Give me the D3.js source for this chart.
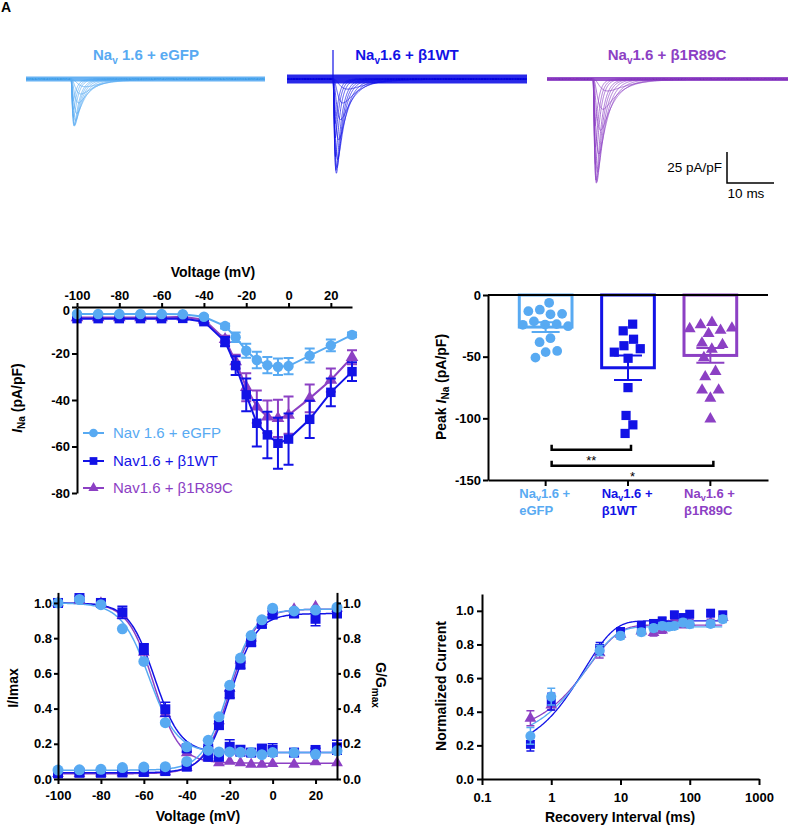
<!DOCTYPE html>
<html><head><meta charset="utf-8">
<script src="https://cdn.jsdelivr.net/npm/d3@7"></script>
<style>body{margin:0;background:#fff}svg{display:block}</style>
</head><body><svg id="c" width="788" height="828"></svg>
<script>
// ---------------- DATA ----------------
const groups = ["eGFP", "β1WT", "β1R89C"];
const colors = ["#58aaf2", "#1212e6", "#8c40c4"];
const legendLabels = ["Nav 1.6 + eGFP", "Nav1.6 + β1WT", "Nav1.6 + β1R89C"];

// Panel B: I-V
const ivVoltage = [-100,-90,-80,-70,-60,-50,-40,-30,-25,-20,-15,-10,-5,0,10,20,30];
const ivEGFP  = [-3,-3,-3,-3,-3,-3.1,-4.2,-8.2,-13,-18.8,-22.8,-25,-25.7,-25.4,-20.9,-16.5,-12];
const ivEGFPErr = [0.3,0.3,0.3,0.3,0.3,0.3,0.5,1,2,3,3.5,3.5,3.5,3.5,3,2.5,1];
const ivWT    = [-5,-5,-5,-5,-5,-4.9,-6.3,-14.9,-25.2,-37.8,-50,-55,-58.6,-56.8,-48.3,-36.7,-27.8];
const ivWTErr = [0.4,0.4,0.4,0.4,0.4,0.5,0.8,2,4,7,10,10,11,11,8,6,4];
const ivR89C  = [-4.5,-4.5,-4.5,-4.5,-4.5,-4.2,-5.5,-13.9,-23.5,-34.5,-42.9,-47.2,-47.9,-46.5,-39.3,-31.4,-21.6];
const ivR89CErr = [0.4,0.4,0.4,0.4,0.4,0.4,0.6,1.5,3,6,7,7,8,8,6,5,3];
const ivTicksX = [-100,-80,-60,-40,-20,0,20];
const ivTicksY = [0,-20,-40,-60,-80];

// Panel A: representative trace families (steps -40..+30 mV)
const traceVoltage = [-40,-30,-25,-20,-15,-10,-5,0,10,20,30];
const traceTauM = [1.2,0.8,0.6,0.45,0.35,0.3,0.26,0.23,0.2,0.18,0.16];
const traceTauH = [5,3.5,2.8,2.2,1.8,1.5,1.3,1.15,0.95,0.85,0.75];
const tracePeak = [38, 76, 84]; // pA/pF of the representative cells
const scaleBarMs = 10, scaleBarPA = 25;

// Panel C: peak current per cell
const peakEGFP = [-7.6,-15.7,-13.2,-12.2,-16.8,-22.1,-25.1,-22.1,-22.1,-23.8,-35.1,-38.3,-50.5,-45.4,-46.4];
const peakWT   = [-23.8,-41,-28.9,-37.3,-42.7,-45.9,-51.3,-75.1,-97.8,-105.3,-112.1];
const peakR89C = [-27,-24.3,-24.3,-27,-27,-31,-40.5,-43.8,-39.2,-50.5,-66.2,-62.1,-77.5,-77.5,-82.9,-100.5];
const peakMean = [-26, -59, -49];
const peakSEM  = [4, 10, 6];
const peakTicks = [0,-50,-100,-150];
const sigPairs = [[0,1,-125.5,"**"],[0,2,-138.5,"*"]];

// Panel D: steady-state inactivation and activation
const ssVoltage = [-100,-90,-80,-70,-60,-50,-40,-30,-25,-20,-15,-10,-5,0,10,20,30];
const inactEGFP = [1.0,1.02,0.99,0.853,0.668,0.32,0.183,0.164,0.154,0.154,0.152,0.15,0.138,0.15,0.15,0.14,0.16];
const inactWT   = [1.0,1.028,1.0,0.947,0.739,0.396,0.174,0.126,0.126,0.183,0.16,0.15,0.173,0.165,0.15,0.165,0.18];
const inactR89C = [1.0,1.015,1.0,0.928,0.72,0.37,0.149,0.12,0.092,0.10,0.092,0.083,0.083,0.087,0.083,0.097,0.092];
const inactErrWT = [0.005,0.01,0.01,0.035,0.03,0.04,0.02,0.01,0.01,0.04,0.03,0.02,0.02,0.035,0.01,0.01,0.04];
const actEGFP = [0.051,0.052,0.055,0.065,0.068,0.07,0.10,0.22,0.353,0.532,0.687,0.815,0.904,0.97,0.955,0.96,0.975];
const actWT   = [0.032,0.035,0.035,0.037,0.04,0.045,0.07,0.173,0.306,0.481,0.649,0.777,0.881,0.934,0.94,0.91,0.94];
const actR89C = [0.03,0.03,0.033,0.035,0.035,0.04,0.065,0.18,0.33,0.515,0.675,0.80,0.895,0.95,0.965,0.98,0.97];
const actErrWT = [0.005,0.005,0.005,0.005,0.005,0.005,0.01,0.01,0.02,0.02,0.02,0.02,0.02,0.02,0.02,0.04,0.02];
// Boltzmann fits: [V1/2, k, bottom, top]
const inactFit = [[-57.5,6.5,0.15,1.0],[-55,6,0.15,1.0],[-55.5,6,0.09,1.0]];
const actFit   = [[-20.5,6,0.05,0.965],[-19.5,6,0.035,0.94],[-20,6,0.03,0.965]];
const ssTicksX = [-100,-80,-60,-40,-20,0,20];
const ssTicksY = [0,0.2,0.4,0.6,0.8,1.0];

// Panel E: recovery from inactivation
const recInterval = [0.5,1,5,10,20,30,40,50,60,80,100,200,300];
const recEGFP = [0.256,0.49,0.764,0.851,0.873,0.897,0.91,0.905,0.91,0.93,0.92,0.922,0.95];
const recWT   = [0.206,0.46,0.776,0.877,0.913,0.925,0.94,0.915,0.976,0.96,0.98,0.986,0.976];
const recR89C = [0.361,0.44,0.75,0.86,0.88,0.87,0.886,0.91,0.95,0.92,0.93,0.93,0.96];
const recErrEGFP = [0.05,0.05,0.03,0.02,0.02,0.02,0.02,0.02,0.02,0.02,0.02,0.02,0.02];
const recErrWT   = [0.04,0.05,0.035,0.02,0.02,0.02,0.02,0.02,0.02,0.02,0.02,0.02,0.02];
const recErrR89C = [0.045,0.03,0.03,0.02,0.02,0.02,0.02,0.02,0.02,0.02,0.02,0.02,0.02];
// single exponential fits: [plateau, amplitude, tau(ms)]
const recFit = [[0.905,0.683,3.23],[0.94,0.79,3.0],[0.915,0.65,3.57]];
const recTicksX = [0.1,1,10,100,1000];
const recTicksY = [0,0.2,0.4,0.6,0.8,1.0];

// ---------------- DRAW ----------------
const FONT = '"Liberation Sans", Arial, Helvetica, sans-serif';
const svg = d3.select("#c").attr("font-family", FONT);
const symbols = [d3.symbolCircle, d3.symbolSquare, d3.symbolTriangle];

function styleAxis(g, fs) {
  g.attr("font-family", FONT).attr("font-size", fs || 13).attr("font-weight", "bold");
  g.selectAll("path.domain").attr("stroke", "#000").attr("stroke-width", 2);
  g.selectAll(".tick line").attr("stroke", "#000").attr("stroke-width", 2);
  g.selectAll(".tick text").attr("fill", "#000");
}
const fmtPlain = d => String(d);

// panel letter
svg.append("text").attr("x", 1).attr("y", 12).attr("font-size", 14).attr("font-weight", "bold").text("A");

// ---- Panel A ----
const traceLayout = [
  {x0: 26, x1: 265, onset: 71, base: 79, noise: 5, title: 146},
  {x0: 287, x1: 527, onset: 333, base: 79, noise: 9, title: 407},
  {x0: 547, x1: 788, onset: 593, base: 79, noise: 4, title: 667}
];
const pxPerMs = 4.7, pxPerPA = 1.24;
const ivAll = [ivEGFP, ivWT, ivR89C];
function hh(t, tm, th) { return Math.pow(1 - Math.exp(-t / tm), 3) * Math.exp(-t / th); }
const titleParts = [["Na", "v", " 1.6 + eGFP"], ["Na", "v", "1.6 + β1WT"], ["Na", "v", "1.6 + β1R89C"]];

traceLayout.forEach((L, gi) => {
  const dur = (L.x1 - L.x0) / pxPerMs;
  const tS = d3.scaleLinear([0, dur], [L.x0, L.x1]);
  const iS = d3.scaleLinear([0, -100], [L.base, L.base + 100 * pxPerPA]);
  const tOn = tS.invert(L.onset);
  const g = svg.append("g");
  const line = d3.line().x(d => tS(d[0])).y(d => iS(d[1]));
  g.append("path").attr("d", line([[0, 0], [dur, 0]])).attr("stroke", colors[gi])
    .attr("stroke-width", L.noise).attr("fill", "none").attr("opacity", 0.9);
  const iv = ivAll[gi];
  const ivMin = d3.min(traceVoltage.map(v => iv[ivVoltage.indexOf(v)]));
  traceVoltage.forEach((v, j) => {
    const amp = tracePeak[gi] * iv[ivVoltage.indexOf(v)] / ivMin;
    const tm = traceTauM[j], th = traceTauH[j];
    let norm = 0;
    for (let t = 0; t < 20; t += 0.01) norm = Math.max(norm, hh(t, tm, th));
    const pts = [];
    for (let t = 0; t <= dur; t += 0.04) {
      const c = t < tOn ? 0 : -amp * hh(t - tOn, tm, th) / norm;
      pts.push([t, c]);
    }
    g.append("path").attr("d", line(pts)).attr("stroke", colors[gi])
      .attr("stroke-width", 0.7).attr("fill", "none");
  });
  if (gi === 1) {
    g.append("line").attr("x1", L.onset).attr("x2", L.onset).attr("y1", L.base).attr("y2", 50)
      .attr("stroke", colors[gi]).attr("stroke-width", 1.2);
  }
  const tp = titleParts[gi];
  const tt = svg.append("text").attr("x", L.title).attr("y", 60).attr("text-anchor", "middle")
    .attr("font-size", 15).attr("font-weight", "bold").attr("fill", colors[gi]);
  tt.append("tspan").text(tp[0]);
  tt.append("tspan").attr("font-size", 10).attr("dy", 4).text(tp[1]);
  tt.append("tspan").attr("dy", -4).text(tp[2]);
});
// scale bar
{
  const tS = d3.scaleLinear([0, 1], [727, 727 + pxPerMs]);
  const iS = d3.scaleLinear([0, 1], [183, 183 - pxPerPA]);
  svg.append("path").attr("d", `M${tS(0)},${iS(scaleBarPA)}V${iS(0)}H${tS(scaleBarMs)}`)
    .attr("stroke", "#000").attr("stroke-width", 1.5).attr("fill", "none");
  svg.append("text").attr("x", 722).attr("y", 172).attr("text-anchor", "end").attr("font-size", 13.5).text(scaleBarPA + " pA/pF");
  svg.append("text").attr("x", 746).attr("y", 198).attr("text-anchor", "middle").attr("font-size", 13.5).text(scaleBarMs + " ms");
}

// generic series drawer
function drawSeries(g, xs, ys, errs, xS, yS, color, gi, symSize, opts) {
  opts = opts || {};
  const pts = xs.map((x, i) => [xS(x), yS(ys[i])]);
  if (opts.line) {
    g.append("path").attr("d", d3.line()(pts)).attr("stroke", color)
      .attr("stroke-width", opts.lineWidth || 2).attr("fill", "none");
  }
  if (errs) {
    const cap = opts.cap || 4;
    xs.forEach((x, i) => {
      const e = errs[i];
      if (!e) return;
      const cx = xS(x), y1 = yS(ys[i] + e), y2 = yS(ys[i] - e);
      g.append("path").attr("d", `M${cx},${y1}V${y2}M${cx - cap},${y1}H${cx + cap}M${cx - cap},${y2}H${cx + cap}`)
        .attr("stroke", color).attr("stroke-width", opts.errWidth || 2).attr("fill", "none");
    });
  }
  g.selectAll(null).data(pts).enter().append("path")
    .attr("transform", d => `translate(${d[0]},${d[1]})`)
    .attr("d", d3.symbol(symbols[gi], symSize[gi])())
    .attr("fill", color);
}

// ---- Panel B ----
{
  const xB = d3.scaleLinear([-100, 30], [77, 352]);
  const yB = d3.scaleLinear([0, -80], [307, 493]);
  const g = svg.append("g");
  const ivErr = [ivEGFPErr, ivWTErr, ivR89CErr];
  const sz = [85, 90, 70];
  [2, 1, 0].forEach(gi => drawSeries(g, ivVoltage, ivAll[gi], ivErr[gi], xB, yB, colors[gi], gi, sz, {line: true, cap: 5}));
  const ax = svg.append("g").attr("transform", "translate(0,307)")
    .call(d3.axisTop(xB).tickValues(ivTicksX).tickFormat(fmtPlain).tickSize(4).tickPadding(3).tickSizeOuter(0));
  styleAxis(ax);
  const ay = svg.append("g").attr("transform", "translate(77,0)")
    .call(d3.axisLeft(yB).tickValues(ivTicksY).tickFormat(fmtPlain).tickSize(5).tickPadding(2).tickSizeOuter(0));
  styleAxis(ay);
  ay.selectAll(".tick text").filter(d => d === 0).attr("dy", "0.55em");
  svg.append("text").attr("x", 213).attr("y", 277).attr("text-anchor", "middle")
    .attr("font-size", 14).attr("font-weight", "bold").text("Voltage (mV)");
  const yl = svg.append("text").attr("transform", "translate(22,398) rotate(-90)").attr("text-anchor", "middle")
    .attr("font-size", 14).attr("font-weight", "bold");
  yl.append("tspan").attr("font-style", "italic").text("I");
  yl.append("tspan").attr("font-size", 10).attr("dy", 3).text("Na");
  yl.append("tspan").attr("dy", -3).text(" (pA/pF)");
  // legend
  const legY = [433, 461, 488];
  groups.forEach((gname, gi) => {
    const lg = svg.append("g");
    lg.append("line").attr("x1", 83).attr("x2", 104).attr("y1", legY[gi]).attr("y2", legY[gi])
      .attr("stroke", colors[gi]).attr("stroke-width", 2);
    lg.append("path").attr("transform", `translate(93.5,${legY[gi]})`)
      .attr("d", d3.symbol(symbols[gi], [60, 60, 45][gi])()).attr("fill", colors[gi]);
    lg.append("text").attr("x", 113).attr("y", legY[gi]).attr("dy", "0.36em")
      .attr("font-size", 15).attr("fill", colors[gi]).text(legendLabels[gi]);
  });
}

// ---- Panel C ----
{
  const xC = d3.scaleBand(groups, [488, 768]).paddingInner(0.36).paddingOuter(0.38);
  const yC = d3.scaleLinear([0, -150], [295, 480]);
  const g = svg.append("g");
  const peaks = [peakEGFP, peakWT, peakR89C];
  svg.append("line").attr("x1", 488).attr("x2", 768).attr("y1", yC(0)).attr("y2", yC(0))
    .attr("stroke", "#000").attr("stroke-width", 2);
  groups.forEach((gname, gi) => {
    const x0 = xC(gname), bw = xC.bandwidth(), cx = x0 + bw / 2;
    g.append("rect").attr("x", x0).attr("y", yC(0)).attr("width", bw)
      .attr("height", yC(peakMean[gi]) - yC(0)).attr("fill", "none")
      .attr("stroke", colors[gi]).attr("stroke-width", 3);
    // beeswarm via force layout
    const nodes = peaks[gi].map(v => ({v: v, x: cx, y: yC(v), ty: yC(v)}));
    const sim = d3.forceSimulation(nodes)
      .force("x", d3.forceX(cx).strength(0.06))
      .force("y", d3.forceY(d => d.ty).strength(1))
      .force("c", d3.forceCollide(5.8))
      .stop();
    for (let i = 0; i < 300; i++) sim.tick();
    g.selectAll(null).data(nodes).enter().append("path")
      .attr("transform", d => `translate(${d.x},${d.y})`)
      .attr("d", d3.symbol(symbols[gi], [75, 85, 62][gi])()).attr("fill", colors[gi]);
    // mean ± SEM
    const y1 = yC(peakMean[gi] + peakSEM[gi]), y2 = yC(peakMean[gi] - peakSEM[gi]), cap = 14;
    g.append("path").attr("d", `M${cx},${y1}V${y2}M${cx - cap},${y1}H${cx + cap}M${cx - cap},${y2}H${cx + cap}`)
      .attr("stroke", colors[gi]).attr("stroke-width", 2).attr("fill", "none");
    // category label
    const t = svg.append("text").attr("x", x0).attr("y", 498).attr("font-size", 13)
      .attr("font-weight", "bold").attr("fill", colors[gi]);
    t.append("tspan").text("Na");
    t.append("tspan").attr("font-size", 9).attr("dy", 3).text("v");
    t.append("tspan").attr("dy", -3).text("1.6 +");
    svg.append("text").attr("x", x0).attr("y", 515).attr("font-size", 13)
      .attr("font-weight", "bold").attr("fill", colors[gi]).text(gname);
  });
  sigPairs.forEach(([a, b, v, s]) => {
    const xa = xC(groups[a]) + xC.bandwidth() / 2 + 6, xb = xC(groups[b]) + xC.bandwidth() / 2 + 3;
    const y = yC(v);
    g.append("path").attr("d", `M${xa},${y - 5}V${y}H${xb}V${y - 5}`).attr("stroke", "#000")
      .attr("stroke-width", 2.5).attr("fill", "none");
    g.append("text").attr("x", (xa + xb) / 2).attr("y", y + 15).attr("text-anchor", "middle")
      .attr("font-size", 13).text(s);
  });
  const axB = svg.append("g").attr("transform", `translate(0,${yC(-150)})`)
    .call(d3.axisBottom(xC).tickFormat("").tickSize(6).tickSizeOuter(0));
  styleAxis(axB);
  const ay = svg.append("g").attr("transform", "translate(488,0)")
    .call(d3.axisLeft(yC).tickValues(peakTicks).tickFormat(fmtPlain).tickSize(5).tickPadding(2).tickSizeOuter(0));
  styleAxis(ay);
  const yl = svg.append("text").attr("transform", "translate(446,387) rotate(-90)").attr("text-anchor", "middle")
    .attr("font-size", 14).attr("font-weight", "bold");
  yl.append("tspan").text("Peak ");
  yl.append("tspan").attr("font-style", "italic").text("I");
  yl.append("tspan").attr("font-size", 10).attr("dy", 3).text("Na");
  yl.append("tspan").attr("dy", -3).text(" (pA/pF)");
}

// ---- Panel D ----
{
  const xD = d3.scaleLinear([-100, 30], [58, 337]);
  const yD = d3.scaleLinear([0, 1.06], [779, 592.4]);
  const g = svg.append("g");
  const inact = [inactEGFP, inactWT, inactR89C];
  const act = [actEGFP, actWT, actR89C];
  const inErr = [null, inactErrWT, null];
  const acErr = [null, actErrWT, null];
  const sz = [95, 100, 60];
  const vs = d3.range(-100, 30.01, 0.5);
  const lineD = d3.line().x(d => xD(d[0])).y(d => yD(d[1]));
  [2, 1, 0].forEach(gi => {
    const [vh, k, b, t] = inactFit[gi];
    g.append("path").attr("d", lineD(vs.map(v => [v, b + (t - b) / (1 + Math.exp((v - vh) / k))])))
      .attr("stroke", colors[gi]).attr("stroke-width", 1.5).attr("fill", "none");
    const [ah, ak, ab, at] = actFit[gi];
    g.append("path").attr("d", lineD(vs.map(v => [v, ab + (at - ab) / (1 + Math.exp((ah - v) / ak))])))
      .attr("stroke", colors[gi]).attr("stroke-width", 1.5).attr("fill", "none");
  });
  [2, 1, 0].forEach(gi => {
    drawSeries(g, ssVoltage, inact[gi], inErr[gi], xD, yD, colors[gi], gi, sz, {cap: 5, errWidth: 1.5});
    drawSeries(g, ssVoltage, act[gi], acErr[gi], xD, yD, colors[gi], gi, sz, {cap: 5, errWidth: 1.5});
  });
  const ax = svg.append("g").attr("transform", "translate(0,779)")
    .call(d3.axisBottom(xD).tickValues(ssTicksX).tickFormat(fmtPlain).tickSize(5).tickPadding(7).tickSizeOuter(0));
  styleAxis(ax);
  const ayl = svg.append("g").attr("transform", "translate(58,0)")
    .call(d3.axisLeft(yD).tickValues(ssTicksY).tickFormat(d3.format(".1f")).tickSize(4).tickPadding(2).tickSizeOuter(0));
  styleAxis(ayl);
  const ayr = svg.append("g").attr("transform", "translate(337,0)")
    .call(d3.axisRight(yD).tickValues(ssTicksY).tickFormat(d3.format(".1f")).tickSize(4).tickPadding(2).tickSizeOuter(0));
  styleAxis(ayr);
  svg.append("text").attr("x", 198).attr("y", 821).attr("text-anchor", "middle")
    .attr("font-size", 14).attr("font-weight", "bold").text("Voltage (mV)");
  svg.append("text").attr("transform", "translate(18,688) rotate(-90)").attr("text-anchor", "middle")
    .attr("font-size", 14).attr("font-weight", "bold").text("I/Imax");
  const yr = svg.append("text").attr("transform", "translate(376,685) rotate(90)").attr("text-anchor", "middle")
    .attr("font-size", 14).attr("font-weight", "bold");
  yr.append("tspan").text("G/G");
  yr.append("tspan").attr("font-size", 10).attr("dy", 4).text("max");
}

// ---- Panel E ----
{
  const xE = d3.scaleLog([0.1, 1000], [482, 759]);
  const yE = d3.scaleLinear([0, 1.1], [779, 594]);
  const g = svg.append("g");
  const rec = [recEGFP, recWT, recR89C];
  const recErr = [recErrEGFP, recErrWT, recErrR89C];
  const sz = [80, 80, 60];
  const ts = d3.range(Math.log10(0.5), Math.log10(300) + 0.001, 0.01).map(l => Math.pow(10, l));
  const lineE = d3.line().x(d => xE(d[0])).y(d => yE(d[1]));
  [2, 1, 0].forEach(gi => {
    const [p, a, tau] = recFit[gi];
    g.append("path").attr("d", lineE(ts.map(t => [t, p - a * Math.exp(-t / tau)])))
      .attr("stroke", colors[gi]).attr("stroke-width", 1.3).attr("fill", "none");
  });
  [2, 1, 0].forEach(gi => drawSeries(g, recInterval, rec[gi], recErr[gi], xE, yE, colors[gi], gi, sz, {cap: 4, errWidth: 1.5}));
  const ax = svg.append("g").attr("transform", "translate(0,779)")
    .call(d3.axisBottom(xE).tickValues(recTicksX).tickFormat(fmtPlain).tickSize(6).tickPadding(8).tickSizeOuter(0));
  styleAxis(ax);
  const ay = svg.append("g").attr("transform", "translate(482,0)")
    .call(d3.axisLeft(yE).tickValues(recTicksY).tickFormat(d3.format(".1f")).tickSize(5).tickPadding(3).tickSizeOuter(0));
  styleAxis(ay);
  svg.append("text").attr("x", 620).attr("y", 822).attr("text-anchor", "middle")
    .attr("font-size", 14).attr("font-weight", "bold").text("Recovery Interval (ms)");
  svg.append("text").attr("transform", "translate(446,686) rotate(-90)").attr("text-anchor", "middle")
    .attr("font-size", 14).attr("font-weight", "bold").text("Normalized Current");
}
</script></body></html>
